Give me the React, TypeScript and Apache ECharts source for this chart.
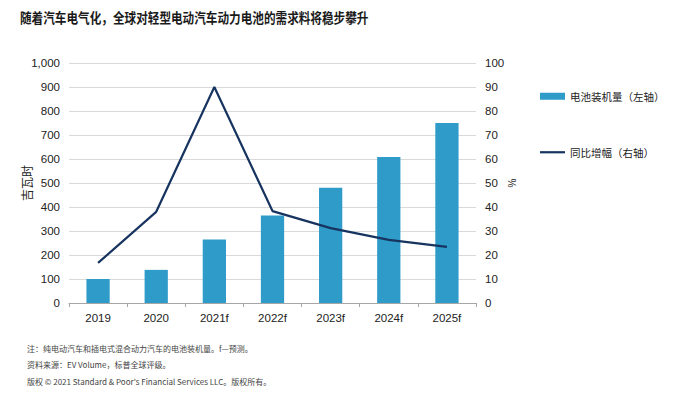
import React, { useEffect, useRef } from "react";
import * as echarts from "echarts";

const categories = ["2019", "2020", "2021f", "2022f", "2023f", "2024f", "2025f"];
const capacityGWh = [100, 138, 265, 365, 480, 608, 750];
const yoyGrowth = [16.7, 38, 90, 38.3, 31.2, 26.3, 23.4];
const seriesNames = ["电池装机量（左轴）", "同比增幅（右轴）"];
const titleText = "随着汽车电气化，全球对轻型电动汽车动力电池的需求料将稳步攀升";
const notes = [
  "注：纯电动汽车和插电式混合动力汽车的电池装机量。f—预测。",
  "资料来源：EV Volume，标普全球评级。",
  "版权 © 2021 Standard & Poor's Financial Services LLC。版权所有。",
];

const SANS = "'Liberation Sans', Arial, 'Noto Sans CJK SC', sans-serif";
const CJK = "'Noto Sans CJK SC', 'Liberation Sans', sans-serif";

export default function App() {
  const ref = useRef<HTMLDivElement>(null);
  useEffect(() => {
    if (!ref.current) return;
    const chart = echarts.init(ref.current, undefined, { renderer: "svg" });
    chart.setOption({
      animation: false,
      backgroundColor: "#ffffff",
      textStyle: { fontFamily: SANS },
      graphic: [
        {
          type: "text",
          left: 20,
          top: 10,
          style: {
            text: titleText,
            font: `bold 14px ${CJK}`,
            fill: "#1a1a1a",
          },
          scaleX: 0.83,
        },
        ...notes.map((t, i) => ({
          type: "text",
          left: 27,
          top: 344 + i * 16.5,
          style: { text: t, font: `8px ${CJK}`, fill: "#444" },
        })),
      ],
      legend: [
        {
          orient: "vertical",
          left: 540,
          top: 91,
          padding: 0,
          itemWidth: 25,
          itemHeight: 7,
          textStyle: { fontFamily: CJK, fontSize: 10.5, color: "#222" },
          data: [{ name: seriesNames[0], icon: "rect" }],
        },
        {
          orient: "vertical",
          left: 540,
          top: 147,
          padding: 0,
          itemWidth: 25,
          itemHeight: 2.2,
          textStyle: { fontFamily: CJK, fontSize: 10.5, color: "#222" },
          data: [{ name: seriesNames[1], icon: "rect" }],
        },
      ],
      grid: { left: 69, right: 201, top: 63, bottom: 91, containLabel: false },
      xAxis: {
        type: "category",
        data: categories,
        axisLine: { lineStyle: { color: "#a6a6a6" } },
        axisTick: { show: true, length: 4, lineStyle: { color: "#a6a6a6" } },
        axisLabel: { color: "#222", fontSize: 11.5, margin: 9 },
      },
      yAxis: [
        {
          type: "value",
          min: 0,
          max: 1000,
          interval: 100,
          name: "吉瓦时",
          nameLocation: "middle",
          nameGap: 37,
          nameMoveOverlap: false,
          nameRotate: 90,
          nameTextStyle: { fontFamily: CJK, fontSize: 12, color: "#222" },
          axisLabel: {
            color: "#222",
            fontSize: 11.5,
            margin: 9,
            formatter: (v: number) => v.toLocaleString("en-US"),
          },
          splitLine: { lineStyle: { color: "#d9d9d9" } },
          axisLine: { show: false },
          axisTick: { show: false },
        },
        {
          type: "value",
          min: 0,
          max: 100,
          interval: 10,
          name: "%",
          nameLocation: "middle",
          nameGap: 31,
          nameMoveOverlap: false,
          nameRotate: 90,
          nameTextStyle: { fontSize: 10, color: "#222" },
          axisLabel: { color: "#222", fontSize: 11.5, margin: 9 },
          splitLine: { show: false },
          axisLine: { show: false },
          axisTick: { show: false },
        },
      ],
      series: [
        {
          name: seriesNames[0],
          type: "bar",
          data: capacityGWh,
          yAxisIndex: 0,
          barWidth: "40%",
          itemStyle: { color: "#2e9bc9" },
        },
        {
          name: seriesNames[1],
          type: "line",
          data: yoyGrowth,
          yAxisIndex: 1,
          symbol: "none",
          lineStyle: { color: "#16345f", width: 2.2 },
          itemStyle: { color: "#16345f" },
        },
      ],
    });
    return () => chart.dispose();
  }, []);
  return (
    <div
      ref={ref}
      style={{ position: "absolute", left: 0, top: 0, width: 677, height: 394 }}
    />
  );
}
